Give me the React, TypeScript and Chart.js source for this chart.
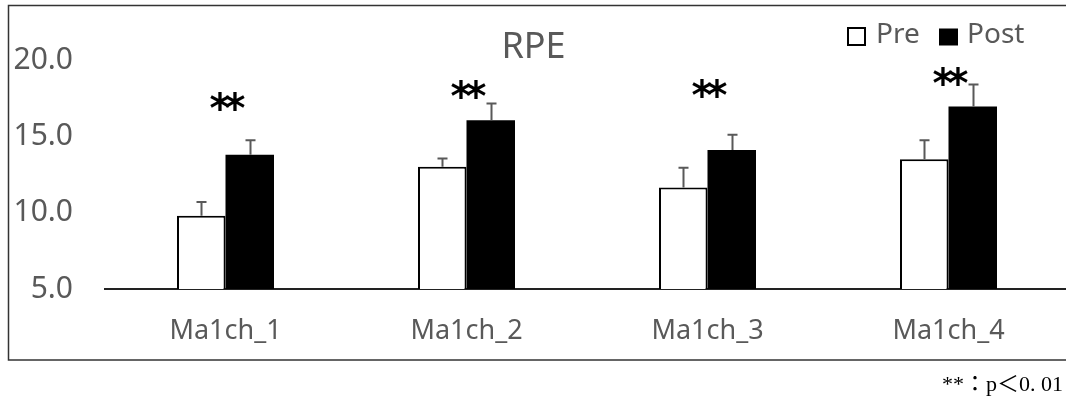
import React, { useEffect, useRef } from 'react';
import { Chart, registerables } from 'chart.js';

Chart.register(...registerables);

const categories = ['Ma1ch_1', 'Ma1ch_2', 'Ma1ch_3', 'Ma1ch_4'];
const seriesNames = ['Pre', 'Post'];
const preMean = [9.8, 13.0, 11.65, 13.5];
const preSD = [0.9, 0.55, 1.3, 1.25];
const postMean = [13.8, 16.05, 14.1, 16.95];
const postSD = [0.95, 1.1, 1.0, 1.45];
const sigMarkY = [17.4, 18.15, 18.2, 19.05];
const sigLabels = ['**', '**', '**', '**'];
const yTicks = [5, 10, 15, 20];
const titleText = 'RPE';
const footnote = '**：p＜0. 01';

const GRAY = '#595959';
const SANS = '"Noto Sans", "DejaVu Sans", sans-serif';

const decor = {
  id: 'decor',
  beforeDraw(chart: any) {
    const ctx = chart.ctx;
    ctx.save();
    ctx.fillStyle = '#ffffff';
    ctx.fillRect(0, 0, chart.width, chart.height);
    ctx.restore();
  },
  afterDatasetsDraw(chart: any) {
    const ctx = chart.ctx;
    const ys = chart.scales.y;
    const means = [preMean, postMean];
    const sds = [preSD, postSD];
    ctx.save();
    ctx.strokeStyle = GRAY;
    ctx.lineWidth = 2;
    [0, 1].forEach((di) => {
      const meta = chart.getDatasetMeta(di);
      meta.data.forEach((bar: any, i: number) => {
        const x = Math.round(bar.x) + 0.5;
        const yTop = ys.getPixelForValue(means[di][i] + sds[di][i]);
        ctx.beginPath();
        ctx.moveTo(x, bar.y);
        ctx.lineTo(x, yTop);
        ctx.moveTo(x - 5, yTop);
        ctx.lineTo(x + 5, yTop);
        ctx.stroke();
      });
    });
    ctx.restore();
  },
  afterDraw(chart: any) {
    const ctx = chart.ctx;
    const xs = chart.scales.x;
    const ys = chart.scales.y;
    ctx.save();
    // outer frame
    ctx.strokeStyle = '#333333';
    ctx.lineWidth = 1.5;
    ctx.strokeRect(8.5, 5.5, 1200, 354.5);

    // title
    ctx.fillStyle = GRAY;
    ctx.font = `36px ${SANS}`;
    ctx.textAlign = 'center';
    ctx.textBaseline = 'alphabetic';
    ctx.fillText(titleText, 533.5, 57.5);

    // legend
    ctx.font = `28px ${SANS}`;
    ctx.textAlign = 'left';
    ctx.strokeStyle = '#000000';
    ctx.lineWidth = 2;
    ctx.strokeRect(848, 28, 17, 17);
    ctx.fillStyle = GRAY;
    ctx.fillText(seriesNames[0], 876, 42.5);
    ctx.fillStyle = '#000000';
    ctx.fillRect(939, 28.5, 19, 17);
    ctx.fillStyle = GRAY;
    ctx.fillText(seriesNames[1], 967, 42.5);

    // significance marks
    ctx.fillStyle = '#000000';
    ctx.font = `bold 40px "DejaVu Sans", sans-serif`;
    ctx.textAlign = 'center';
    sigLabels.forEach((s, i) => {
      const x = xs.getPixelForValue(i) + 2;
      const y = ys.getPixelForValue(sigMarkY[i]);
      const chars = s.split('');
      chars.forEach((c, k) => {
        const dx = (k - (chars.length - 1) / 2) * 15;
        ctx.fillText(c, x + dx, y + 22);
      });
    });

    // footnote
    ctx.fillStyle = '#000000';
    ctx.font = `22px "Liberation Serif", "Noto Sans CJK JP", serif`;
    ctx.textAlign = 'right';
    ctx.fillText(footnote, 1063, 391);
    ctx.restore();
  },
};

export default function App() {
  const ref = useRef<HTMLCanvasElement | null>(null);
  useEffect(() => {
    if (!ref.current) return;
    const chart = new Chart(ref.current, {
      type: 'bar',
      data: {
        labels: categories,
        datasets: [
          {
            label: seriesNames[0],
            data: preMean,
            backgroundColor: '#ffffff',
            borderColor: '#000000',
            borderWidth: 2,
            borderSkipped: 'bottom',
            categoryPercentage: 0.4025,
            barPercentage: 1,
          },
          {
            label: seriesNames[1],
            data: postMean,
            backgroundColor: '#000000',
            borderColor: '#000000',
            borderWidth: 0,
            categoryPercentage: 0.4025,
            barPercentage: 1,
          },
        ],
      },
      options: {
        responsive: false,
        animation: false,
        layout: { padding: { top: 60, right: 11, left: 0, bottom: 0 } },
        plugins: {
          legend: { display: false },
          title: { display: false },
          tooltip: { enabled: false },
        },
        scales: {
          x: {
            z: 1,
            grid: { display: false, drawTicks: false },
            border: { display: true, color: '#222222', width: 2 },
            ticks: { color: GRAY, font: { family: SANS, size: 27 }, padding: 26 },
            afterFit: (s: any) => { s.height = 108; },
          },
          y: {
            min: 5,
            max: 20,
            grid: { display: false, drawTicks: false },
            border: { display: false },
            afterBuildTicks: (s: any) => { s.ticks = yTicks.map((v) => ({ value: v })); },
            ticks: {
              color: GRAY,
              font: { family: SANS, size: 30 },
              padding: 32,
              callback: (v: any) => Number(v).toFixed(1),
            },
            afterFit: (s: any) => { s.width = 105; },
          },
        },
      },
      plugins: [decor],
    });
    return () => chart.destroy();
  }, []);
  return (
    <div style={{ position: 'absolute', left: 0, top: 0, width: 1066, height: 397, overflow: 'hidden', background: '#fff' }}>
      <canvas ref={ref} width={1080} height={397} style={{ display: 'block' }} />
    </div>
  );
}
